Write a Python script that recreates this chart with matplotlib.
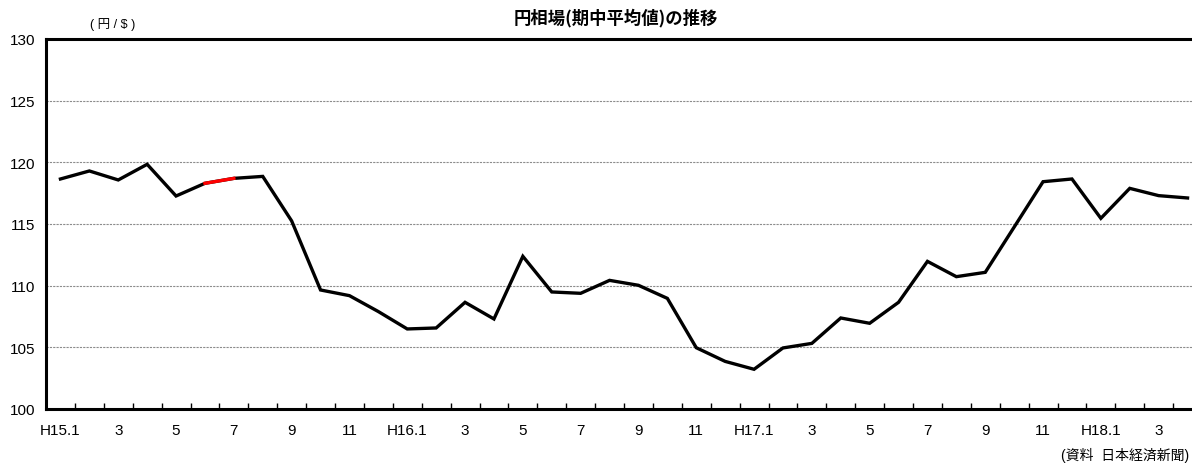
import matplotlib
matplotlib.use("Agg")
import matplotlib.pyplot as plt
import numpy as np

plt.rcParams['font.family'] = ['Liberation Sans', 'Noto Sans CJK JP', 'DejaVu Sans']

# monthly average yen/dollar rate, H15.1 - H18.4
months = ["H15.1", "2", "3", "4", "5", "6", "7", "8", "9", "10", "11", "12",
          "H16.1", "2", "3", "4", "5", "6", "7", "8", "9", "10", "11", "12",
          "H17.1", "2", "3", "4", "5", "6", "7", "8", "9", "10", "11", "12",
          "H18.1", "2", "3", "4"]
rate = [118.65, 119.30, 118.57, 119.84, 117.27, 118.30, 118.70, 118.86, 115.25, 109.65,
        109.19, 107.90, 106.49, 106.57, 108.65, 107.30, 112.38, 109.49, 109.38, 110.43,
        110.03, 108.97, 104.97, 103.86, 103.22, 104.95, 105.32, 107.38, 106.95, 108.65,
        111.97, 110.73, 111.08, 114.75, 118.43, 118.65, 115.46, 117.89, 117.30, 117.11]
# segment drawn in red (H15.6 -> H15.7)
red_from, red_to = 5, 6

x = np.arange(len(months))

fig = plt.figure(figsize=(11.92, 4.64), dpi=100)
# plot area runs past the right edge of the figure
ax = fig.add_axes([46 / 1192, 54 / 464, 1156 / 1192, 370 / 464])

ax.plot(x, rate, color="black", lw=2.4, solid_joinstyle="miter", zorder=3)
ax.plot(x[red_from:red_to + 1], rate[red_from:red_to + 1], color="red", lw=2.4, zorder=4)

ax.set_xlim(-0.5, len(months) - 0.5)
ax.set_ylim(100, 130)
ax.set_yticks(np.arange(100, 131, 5))
for v in range(105, 130, 5):
    ax.axhline(v, color="#8c8c8c", lw=0.8, ls=(0, (2, 1)), zorder=1)

# labels on every other month, tick marks between months
ax.set_xticks(x[::2])
ax.set_xticklabels(months[::2])
ax.set_xticks(x[:-1] + 0.5, minor=True)
ax.tick_params(axis="x", which="major", length=0, pad=10, labelsize=11)
ax.tick_params(axis="x", which="minor", direction="in", length=4, width=1, color="black")
ax.tick_params(axis="y", length=0, pad=8, labelsize=11)

for side in ["left", "bottom", "top"]:
    ax.spines[side].set_linewidth(2.2)
ax.spines["right"].set_visible(False)

fig.text(616 / 1192, 1 - 18 / 464, "円相場(期中平均値)の推移", ha="center", va="center",
         fontsize=12.5, fontweight="bold", family=["Noto Sans CJK JP"])
fig.text(113 / 1192, 1 - 25 / 464, "( 円 / $ )", ha="center", va="center", fontsize=9)
fig.text(1189 / 1192, 1 - 455 / 464, "(資料  日本経済新聞)", ha="right", va="center", fontsize=10)

fig.savefig("out.png", dpi=100)
